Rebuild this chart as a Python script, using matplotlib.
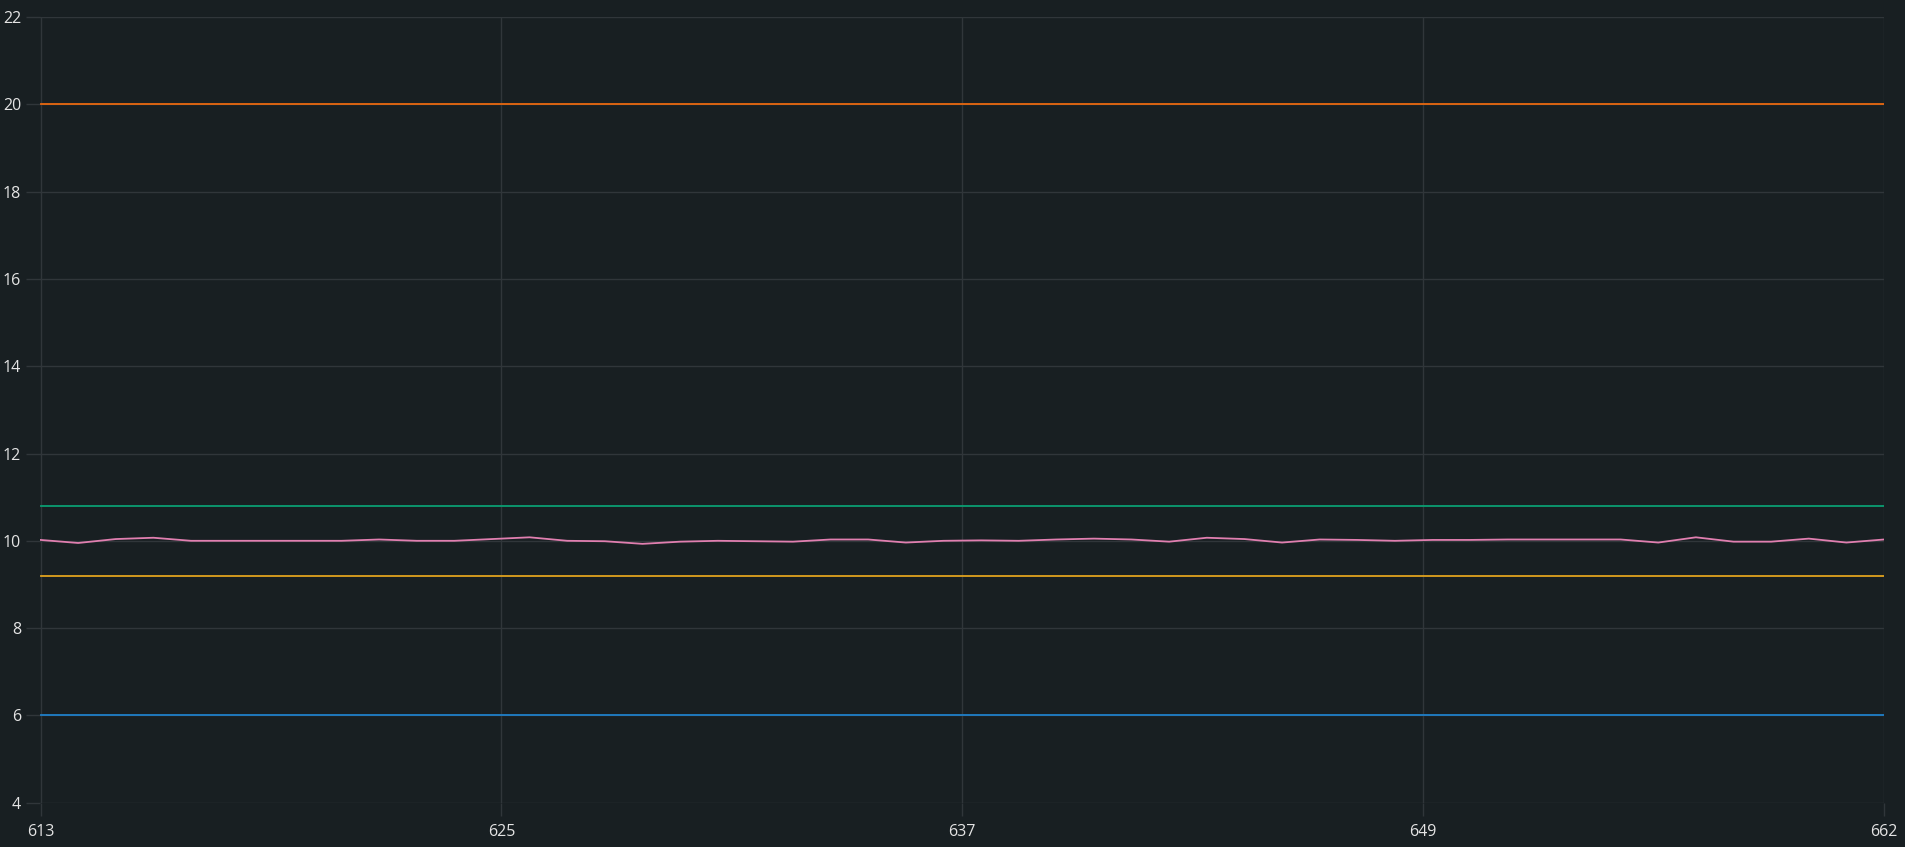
import matplotlib
matplotlib.use("Agg")
import matplotlib.pyplot as plt
import numpy as np

x_values = list(range(613, 663))
orange_series = [20.0] * 50
green_series = [10.8] * 50
yellow_series = [9.2] * 50
blue_series = [6.0] * 50
pink_series = [10.02, 9.95, 10.04, 10.07, 10.0, 10.0, 10.0, 10.0, 10.0, 10.03,
               10.0, 10.0, 10.04, 10.08, 10.0, 9.99, 9.93, 9.98, 10.0, 9.99,
               9.98, 10.03, 10.03, 9.96, 10.0, 10.01, 10.0, 10.03, 10.05, 10.03,
               9.98, 10.07, 10.04, 9.96, 10.03, 10.02, 10.0, 10.02, 10.02, 10.03,
               10.03, 10.03, 10.03, 9.96, 10.08, 9.98, 9.98, 10.05, 9.96, 10.03]
x_tick_labels = ["613", "625", "637", "649", "662"]
y_ticks = [4, 6, 8, 10, 12, 14, 16, 18, 20, 22]

bg = "#181f22"
grid_c = "#30363a"
text_c = "#e4e4e4"

plt.rcParams['font.family'] = ['Open Sans', 'DejaVu Sans']

fig = plt.figure(figsize=(19.06, 8.47), dpi=100, facecolor=bg)
ax = fig.add_axes([40.5 / 1906, 1 - 802.7 / 847, (1884 - 40.5) / 1906, (802.7 - 17) / 847])
ax.set_facecolor(bg)

lw = 1.3
ax.plot(x_values, orange_series, color="#e8680f", lw=lw, zorder=3)
ax.plot(x_values, green_series, color="#0a9e72", lw=lw, zorder=3)
ax.plot(x_values, pink_series, color="#e07fb0", lw=lw, zorder=3)
ax.plot(x_values, yellow_series, color="#e0a21e", lw=lw, zorder=3)
ax.plot(x_values, blue_series, color="#1f7fc8", lw=lw, zorder=3)

ax.set_xlim(x_values[0], x_values[-1])
ax.set_ylim(y_ticks[0], y_ticks[-1])
ax.set_xticks(np.linspace(x_values[0], x_values[-1], len(x_tick_labels)))
ax.set_xticklabels(x_tick_labels)
ax.set_yticks(y_ticks)
ax.set_yticklabels([str(v) for v in y_ticks])
ax.grid(True, color=grid_c, lw=1.0, zorder=0)
for s in ax.spines.values():
    s.set_visible(False)
ax.tick_params(axis='x', colors=grid_c, length=9, width=1.0, pad=6, labelcolor=text_c, labelsize=11.5)
ax.tick_params(axis='y', colors=grid_c, length=10, width=1.0, pad=4, labelcolor=text_c, labelsize=11.5)

fig.savefig("out.png", dpi=100, facecolor=bg)
